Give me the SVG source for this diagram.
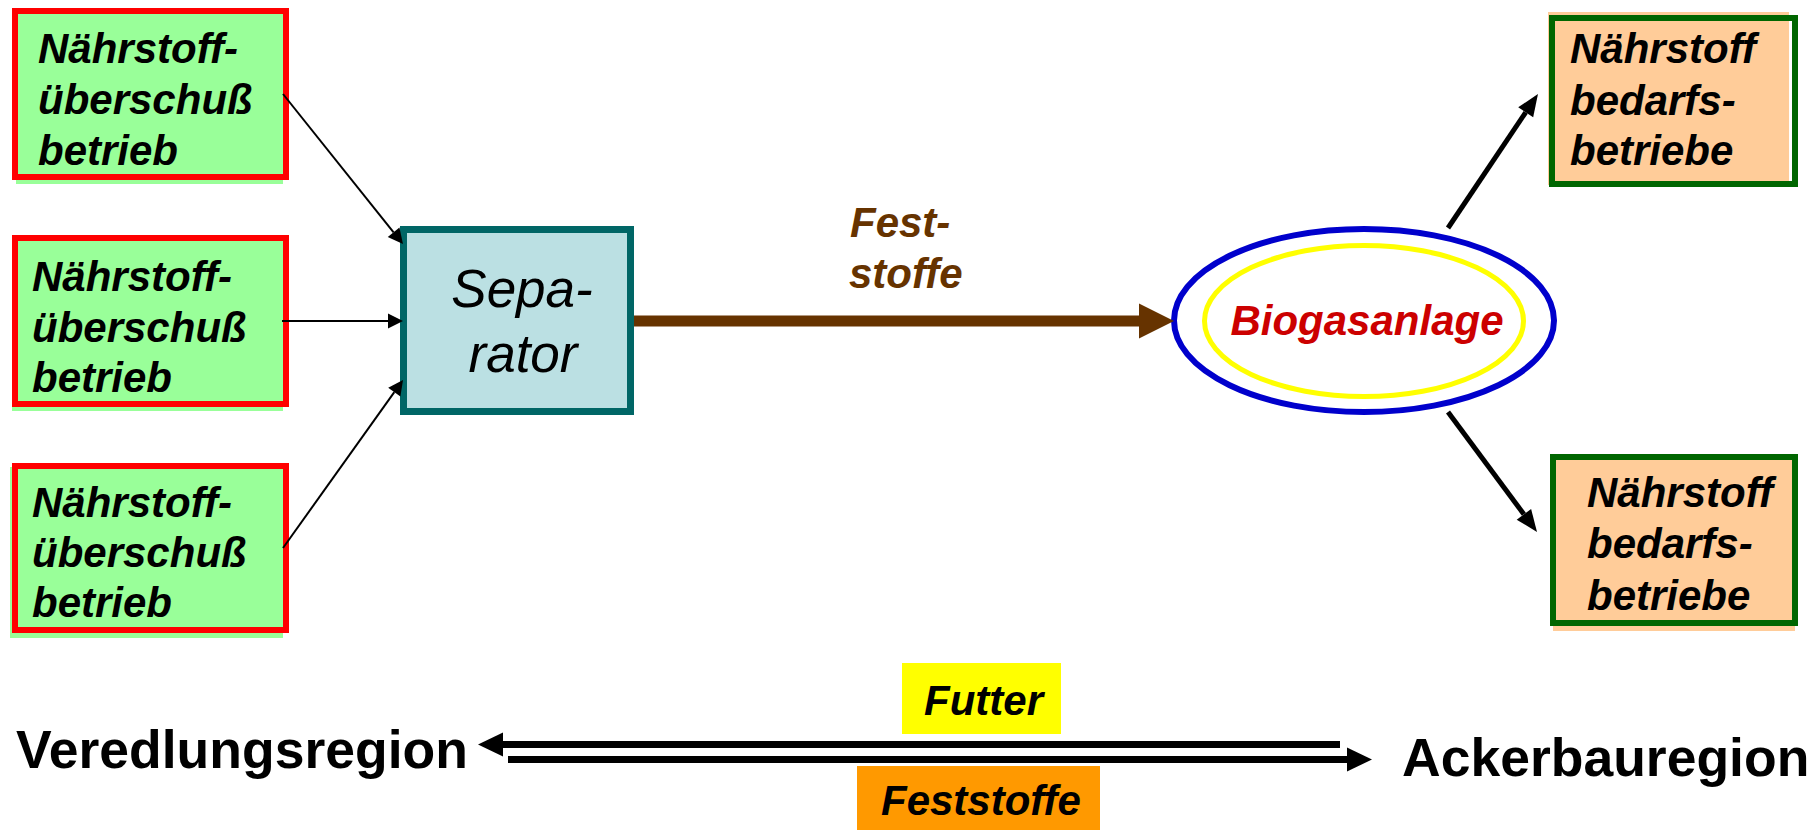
<svg xmlns="http://www.w3.org/2000/svg" width="1811" height="830" viewBox="0 0 1811 830">
  <style>
    .lbl { font-family: "Liberation Sans", Arial, sans-serif; font-weight: bold; font-style: italic; font-size: 42px; fill: #000; }
    .src-fill { fill: #99ff99; }
    .src-edge { fill: none; stroke: #ff0000; stroke-width: 6; }
    .dst-fill { fill: #ffcc99; }
    .dst-edge { fill: none; stroke: #006600; stroke-width: 6; }
    .thin { stroke: #000; stroke-width: 2; fill: none; }
    .thick { stroke: #000; stroke-width: 5; fill: none; }
    .dbl { stroke: #000; stroke-width: 7; fill: none; }
    .region { font-family: "Liberation Sans", Arial, sans-serif; font-weight: bold; font-size: 53.5px; fill: #000; }
  </style>
  <defs>
    <marker id="headThin" markerUnits="userSpaceOnUse" markerWidth="16" markerHeight="16" refX="0" refY="7.5" orient="auto" overflow="visible">
      <path d="M0,0 L15,7.5 L0,15 z" fill="#000"/>
    </marker>
    <marker id="headThick" markerUnits="userSpaceOnUse" markerWidth="24" markerHeight="20" refX="0" refY="9" orient="auto" overflow="visible">
      <path d="M0,0 L22,9 L0,18 z" fill="#000"/>
    </marker>
    <marker id="headBrown" markerUnits="userSpaceOnUse" markerWidth="36" markerHeight="36" refX="0" refY="17.5" orient="auto" overflow="visible">
      <path d="M0,0 L35,17.5 L0,35 z" fill="#663300"/>
    </marker>
    <marker id="headDbl" markerUnits="userSpaceOnUse" markerWidth="26" markerHeight="26" refX="0" refY="12" orient="auto" overflow="visible">
      <path d="M0,0 L25,12 L0,24 z" fill="#000"/>
    </marker>
  </defs>

  <!-- surplus farms -->
  <g id="surplus1">
    <rect class="src-fill" x="16" y="12" width="267" height="172"/>
    <rect class="src-edge" x="15" y="11" width="271" height="166"/>
    <text class="lbl" x="38" y="63">Nährstoff-</text>
    <text class="lbl" x="38" y="114">überschuß</text>
    <text class="lbl" x="38" y="165">betrieb</text>
  </g>
  <g id="surplus2">
    <rect class="src-fill" x="12" y="239" width="271" height="172"/>
    <rect class="src-edge" x="15" y="238" width="271" height="166"/>
    <text class="lbl" x="32" y="291">Nährstoff-</text>
    <text class="lbl" x="32" y="342">überschuß</text>
    <text class="lbl" x="32" y="392">betrieb</text>
  </g>
  <g id="surplus3">
    <rect class="src-fill" x="10" y="467" width="273" height="171"/>
    <rect class="src-edge" x="15" y="466" width="271" height="164"/>
    <text class="lbl" x="32" y="517">Nährstoff-</text>
    <text class="lbl" x="32" y="567">überschuß</text>
    <text class="lbl" x="32" y="617">betrieb</text>
  </g>

  <!-- separator -->
  <g id="separator">
    <rect x="403.5" y="229.5" width="227" height="182" fill="#bbe0e3" stroke="#006666" stroke-width="7"/>
    <text x="522" y="307" text-anchor="middle" font-family="Liberation Sans, Arial, sans-serif" font-style="italic" font-size="53" fill="#000">Sepa-</text>
    <text x="523" y="372" text-anchor="middle" font-family="Liberation Sans, Arial, sans-serif" font-style="italic" font-size="53" fill="#000">rator</text>
  </g>

  <!-- biogas plant -->
  <g id="biogas">
    <ellipse cx="1364" cy="320.5" rx="190" ry="91.5" fill="#fff" stroke="#0000cc" stroke-width="6"/>
    <ellipse cx="1364" cy="321" rx="159.5" ry="75.5" fill="none" stroke="#ffff00" stroke-width="5"/>
    <text x="1367" y="335" text-anchor="middle" font-family="Liberation Sans, Arial, sans-serif" font-weight="bold" font-style="italic" font-size="42" fill="#cc0000">Biogasanlage</text>
  </g>

  <!-- demand farms -->
  <g id="demand1">
    <rect class="dst-fill" x="1548" y="12" width="241" height="173"/>
    <rect class="dst-edge" x="1552" y="18" width="243" height="166"/>
    <text class="lbl" x="1570" y="63">Nährstoff</text>
    <text class="lbl" x="1570" y="115">bedarfs-</text>
    <text class="lbl" x="1570" y="165">betriebe</text>
  </g>
  <g id="demand2">
    <rect class="dst-fill" x="1553" y="458" width="242" height="173"/>
    <rect class="dst-edge" x="1553" y="457" width="242" height="166"/>
    <text class="lbl" x="1587" y="507">Nährstoff</text>
    <text class="lbl" x="1587" y="558">bedarfs-</text>
    <text class="lbl" x="1587" y="610">betriebe</text>
  </g>

  <!-- flow label over the solids line -->
  <g id="solids-label" font-family="Liberation Sans, Arial, sans-serif" font-weight="bold" font-style="italic" font-size="42" fill="#663300">
    <text x="850" y="237">Fest-</text>
    <text x="849" y="288">stoffe</text>
  </g>

  <!-- region exchange -->
  <g id="veredlung">
    <text class="region" x="16" y="768">Veredlungsregion</text>
  </g>
  <g id="ackerbau">
    <text class="region" x="1402" y="776">Ackerbauregion</text>
  </g>
  <g id="futter">
    <rect x="902" y="663" width="159" height="71" fill="#ffff00"/>
    <text class="lbl" x="924" y="715">Futter</text>
  </g>
  <g id="feststoffe">
    <rect x="857" y="766" width="243" height="64" fill="#ff9900"/>
    <text class="lbl" x="881" y="815">Feststoffe</text>
  </g>

  <!-- connectors -->
  <g id="connectors">
    <line class="thin" x1="283" y1="94" x2="393.6" y2="232.3" marker-end="url(#headThin)"/>
    <line class="thin" x1="282" y1="321" x2="388" y2="321" marker-end="url(#headThin)"/>
    <line class="thin" x1="283" y1="548" x2="394.3" y2="392.2" marker-end="url(#headThin)"/>
    <line x1="634" y1="321" x2="1139" y2="321" stroke="#663300" stroke-width="11" marker-end="url(#headBrown)"/>
    <line class="thick" x1="1448" y1="228" x2="1525.7" y2="112.3" marker-end="url(#headThick)"/>
    <line class="thick" x1="1448" y1="412" x2="1523.9" y2="514.3" marker-end="url(#headThick)"/>
    <line class="dbl" x1="1340" y1="744.5" x2="503" y2="744.5" marker-end="url(#headDbl)"/>
    <line class="dbl" x1="508" y1="759.5" x2="1347" y2="759.5" marker-end="url(#headDbl)"/>
  </g>
</svg>
